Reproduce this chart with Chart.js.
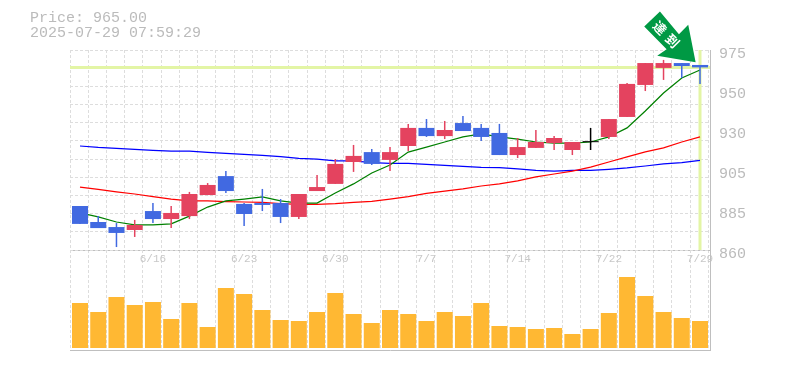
<!DOCTYPE html>
<html lang="ja">
<head>
<meta charset="UTF-8" />
<title>Price chart</title>
<style>
  body { margin: 0; background: #fff; }
  canvas { display: block; }
</style>
</head>
<body>
<canvas id="chart" width="785" height="370"></canvas>

<script src="https://cdn.jsdelivr.net/npm/chart.js"></script>
<script>
  const opens = [885.3, 876.1, 873.2, 871.5, 882.4, 877.8, 879.5, 891.6, 902.5, 886.5, 887.0, 887.0, 879.0, 893.9, 898.0, 910.6, 916.3, 911.8, 919.8, 930.2, 925.5, 933.0, 930.2, 927.3, 914.6, 918.7, 921.5, 917.5, 922.0, 925.0, 936.5, 954.9, 964.7, 967.5, 966.4];
  const closes = [875.0, 872.6, 869.8, 874.4, 877.8, 881.3, 892.2, 897.4, 893.9, 880.7, 885.9, 879.0, 892.2, 896.2, 909.5, 914.1, 909.5, 916.3, 930.2, 925.5, 929.0, 928.4, 925.0, 914.6, 919.2, 922.1, 924.4, 922.1, 922.0, 935.3, 955.5, 967.5, 967.5, 965.8, 965.0];
  const highs = [885.3, 879.6, 875.5, 877.3, 887.0, 885.3, 893.4, 898.5, 905.4, 887.0, 895.1, 889.3, 892.2, 903.1, 912.3, 920.4, 918.1, 919.2, 932.5, 935.3, 934.2, 937.0, 932.5, 932.5, 924.4, 929.0, 925.5, 922.1, 930.2, 935.3, 956.0, 967.5, 969.3, 967.5, 966.4];
  const lows = [875.0, 872.6, 861.7, 867.5, 875.5, 872.7, 877.8, 891.6, 892.8, 873.8, 882.4, 875.5, 877.8, 893.9, 898.0, 904.9, 908.9, 905.4, 916.9, 925.0, 923.8, 928.4, 922.7, 914.6, 912.9, 918.7, 917.5, 914.6, 917.5, 923.8, 936.5, 951.4, 957.8, 958.9, 955.5];
  const volumes = [45, 36, 51, 43, 46, 29, 45, 21, 60, 54, 38, 28, 27, 36, 55, 34, 25, 38, 34, 27, 36, 32, 45, 22, 21, 19, 20, 14, 19, 35, 71, 52, 36, 30, 27];
  const maShort = [881.3, 879.0, 876.1, 874.4, 874.4, 875.0, 879.5, 884.7, 888.2, 889.3, 890.5, 888.2, 887.0, 887.0, 892.8, 898.0, 904.3, 908.9, 916.3, 919.2, 922.1, 925.0, 926.7, 925.0, 923.8, 922.1, 921.5, 921.5, 922.1, 925.0, 930.2, 939.9, 950.3, 958.9, 963.5];
  const maMid = [896.2, 894.8, 893.4, 892.2, 890.7, 889.3, 888.3, 888.2, 887.8, 887.6, 887.4, 886.6, 886.3, 886.3, 886.6, 887.4, 888.0, 889.3, 890.7, 892.6, 893.9, 895.1, 896.8, 898.0, 899.7, 902.0, 903.7, 905.4, 907.7, 910.6, 913.5, 916.4, 918.7, 922.1, 925.0];
  const maLong = [919.8, 919.0, 918.5, 917.9, 917.3, 916.8, 916.8, 916.2, 915.6, 915.0, 914.4, 913.7, 912.7, 912.2, 911.3, 911.2, 910.2, 909.8, 909.8, 909.3, 908.7, 908.1, 907.5, 907.3, 906.6, 905.8, 905.4, 905.8, 905.8, 906.4, 907.2, 908.3, 909.5, 910.2, 911.6];

  const dateTickIndex = [4, 9, 14, 19, 24, 29, 34];
  const dateTickLabels = ['6/16', '6/23', '6/30', '7/7', '7/14', '7/22', '7/29'];
  const priceTicks = [975, 952, 929, 906, 883, 860];
  const priceTickLabels = ['975', '950', '930', '905', '885', '860'];

  const lastPrice = 965.00;
  const lastTime = '2025-07-29 07:59:29';
  const signalText = ['達', '到'];

  const RED = '#e4435f', BLUE = '#4169e1', ORANGE = '#ffb833', HILITE = '#e3f5a5';
  const GRID = '#dddddd', AXIS = '#bfbfbf', TEXT = '#bbbbbb';
  const MONO = '"Liberation Mono", monospace';

  const candleColors = opens.map((o, i) => closes[i] > o ? RED : closes[i] < o ? BLUE : '#000000');
  const xy = arr => arr.map((y, x) => ({ x, y }));
  // date labels sit inside the plot, so the x axes must not take any room
  const noRoom = s => { s.height = 0; s.paddingLeft = 0; s.paddingRight = 0; };

  // arrow and price text drawn on top of the datasets
  const overlay = {
    id: 'overlay',
    afterDatasetsDraw(chart) {
      const { ctx, scales } = chart;
      ctx.save();
      ctx.fillStyle = TEXT;
      ctx.font = '15px ' + MONO;
      ctx.textBaseline = 'middle';
      ctx.fillText('Price: ' + lastPrice.toFixed(2), 30, 18);
      ctx.fillText(lastTime, 30, 33);

      // tip of the arrow sits just above the last candles
      const tx = scales.x.getPixelForValue(33.76);
      const ty = scales.y.getPixelForValue(968);
      const shape = [[-35.7, -50.6], [-51.4, -35.6], [-29, -13], [-38.4, -6.3], [0, 0], [-7.4, -37.3], [-16.7, -28]];
      ctx.fillStyle = '#009944';
      ctx.beginPath();
      shape.forEach(([dx, dy], i) => i ? ctx.lineTo(tx + dx, ty + dy) : ctx.moveTo(tx + dx, ty + dy));
      ctx.closePath();
      ctx.fill();

      ctx.fillStyle = '#ffffff';
      ctx.font = 'bold 13px "Noto Sans CJK JP"';
      ctx.textAlign = 'center';
      signalText.forEach((ch, i) => {
        ctx.save();
        ctx.translate(tx - 35.7 + i * 12.7, ty - 34.3 + i * 13);
        ctx.rotate(Math.PI / 4);
        ctx.fillText(ch, 0, 0);
        ctx.restore();
      });
      ctx.restore();
    }
  };

  new Chart(document.getElementById('chart'), {
    data: {
      datasets: [
        { type: 'bar', yAxisID: 'v', grouped: false, order: 9, barThickness: 16, inflateAmount: 0,
          backgroundColor: ORANGE, data: xy(volumes) },
        { type: 'line', order: 8, borderColor: HILITE, borderWidth: 3, pointRadius: 0,
          data: [{ x: -0.548, y: lastPrice }, { x: 34.548, y: lastPrice }] },
        { type: 'line', order: 8, borderColor: HILITE, borderWidth: 3, pointRadius: 0,
          data: [{ x: 34, y: 975 }, { x: 34, y: 860 }] },
        { type: 'line', order: 7, borderColor: '#0000ff', borderWidth: 1.25, pointRadius: 0, data: xy(maLong) },
        { type: 'line', order: 6, borderColor: '#ff0000', borderWidth: 1.25, pointRadius: 0, data: xy(maMid) },
        { type: 'line', order: 5, borderColor: '#008000', borderWidth: 1.25, pointRadius: 0, data: xy(maShort) },
        { type: 'bar', grouped: false, order: 4, barThickness: 1.5, inflateAmount: 0,
          backgroundColor: candleColors, data: lows.map((l, i) => ({ x: i, y: [l, highs[i]] })) },
        { type: 'bar', grouped: false, order: 3, barThickness: 16, inflateAmount: 0, minBarLength: 1,
          backgroundColor: candleColors, data: opens.map((o, i) => ({ x: i, y: [o, closes[i]] })) }
      ]
    },
    options: {
      responsive: false,
      animation: false,
      layout: { padding: { left: 70, top: 50, right: 0, bottom: 20 } },
      plugins: { legend: { display: false }, tooltip: { enabled: false } },
      scales: {
        x: {
          type: 'linear', min: -0.548, max: 34.548, position: 'bottom', offset: false,
          afterBuildTicks: s => { s.ticks = dateTickIndex.map(value => ({ value })); },
          afterFit: noRoom,
          grid: { display: false, drawTicks: false, offset: false },
          border: { color: AXIS },
          ticks: {
            autoSkip: false, maxRotation: 0, minRotation: 0, mirror: true, padding: 84, color: '#c8c8c8',
            font: { family: MONO, size: 11 },
            callback: (v, i) => dateTickLabels[i]
          }
        },
        xg: {
          type: 'linear', min: -0.548, max: 34.548, position: 'bottom', offset: false,
          afterBuildTicks: s => { s.ticks = Array.from({ length: 36 }, (_, i) => ({ value: i - 0.548 })); },
          afterFit: noRoom,
          grid: { color: GRID, drawTicks: false, offset: false },
          border: { display: false, dash: [3, 2] },
          ticks: { display: false }
        },
        y: {
          min: 802.5, max: 975, position: 'right',
          afterBuildTicks: s => { s.ticks = priceTicks.map(value => ({ value })); },
          afterFit: s => { s.width = 75; },
          grid: { drawTicks: false, color: c => c.tick && c.tick.value === 860 ? AXIS : 'rgba(0,0,0,0)' },
          border: { color: AXIS },
          ticks: {
            autoSkip: false, padding: 9, labelOffset: 4, color: TEXT,
            font: { family: MONO, size: 15 },
            callback: (v, i) => priceTickLabels[i]
          }
        },
        yg: {
          min: 802.5, max: 975, position: 'right',
          afterBuildTicks: s => { s.ticks = Array.from({ length: 12 }, (_, i) => ({ value: 860 + i * 115 / 11 })); },
          afterFit: s => { s.width = 0; },
          grid: { color: GRID, drawTicks: false },
          border: { display: false, dash: [3, 2] },
          ticks: { display: false }
        },
        v: { min: -2, max: 298, position: 'left', display: false }
      }
    },
    plugins: [overlay]
  });
</script>
</body>
</html>
